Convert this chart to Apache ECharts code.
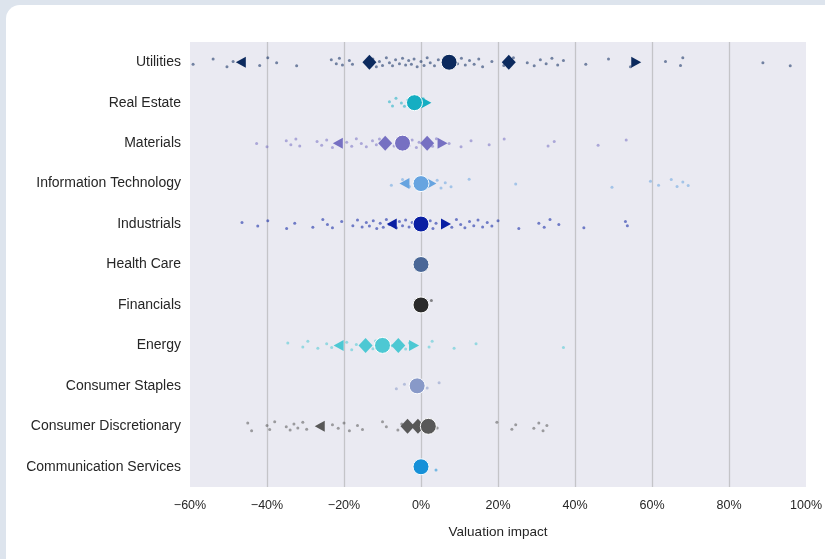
<!DOCTYPE html>
<html>
<head>
<meta charset="utf-8">
<script src="https://cdn.jsdelivr.net/npm/echarts@6/dist/echarts.min.js"></script>
<style>
  html, body { margin: 0; padding: 0; background: #dde4ed; width: 825px; height: 559px; overflow: hidden; }
  #card { position: absolute; left: 6px; top: 5px; width: 840px; height: 580px; background: #ffffff; border-radius: 14px; }
  #chart { position: absolute; left: 0; top: 0; width: 825px; height: 559px; }
</style>
</head>
<body>
<div id="card"></div>
<div id="chart"></div>
<script>
// Sectors, top to bottom
const categories = [
  'Utilities', 'Real Estate', 'Materials', 'Information Technology', 'Industrials',
  'Health Care', 'Financials', 'Energy', 'Consumer Staples', 'Consumer Discretionary',
  'Communication Services'
];

// Individual company valuation impacts (%)
const utilitiesPts = [-59.2, -54, -50.4, -48.8, -41.9, -39.8, -37.5, -32.3, -23.3, -22, -21.2, -20.4, -18.6, -17.8, -12.5, -11.6, -10.8, -10, -9, -8.2, -7.4, -6.6, -5.6, -4.8, -4, -3.2, -2.5, -1.8, -1, 0, 0.8, 1.6, 2.4, 3.5, 4.5, 9.5, 10.5, 11.5, 12.6, 13.8, 15, 16, 18.4, 21.5, 24, 27.6, 29.4, 31, 32.5, 34, 35.5, 37, 42.8, 48.7, 54.4, 63.5, 67.4, 68, 88.8, 95.9];
const realEstatePts = [-8.2, -7.4, -6.5, -5.1, -4.3, -3.5, -0.5, 0.6];
const materialsPts = [-42.7, -40, -35, -33.8, -32.5, -31.5, -27, -25.8, -24.5, -23, -19.3, -18, -16.8, -15.5, -14.2, -12.6, -11.6, -10.8, -7, -6, -3, -2.3, -1.2, -0.5, 3, 4, 7.3, 10.4, 13, 17.7, 21.6, 33, 34.6, 46, 53.3];
const infoTechPts = [-7.7, -4.8, -3, -1.5, 1.5, 4.2, 5.2, 6.3, 7.8, 12.5, 24.6, 49.6, 59.6, 61.7, 65, 66.5, 68, 69.4];
const industrialsPts = [-46.5, -42.4, -39.8, -34.9, -32.8, -28.1, -25.5, -24.3, -23, -20.6, -17.7, -16.5, -15.3, -14.2, -13.4, -12.4, -11.5, -10.6, -9.8, -9, -8.2, -6.4, -5.6, -4.8, -4, -3.1, -2.3, 1.6, 2.4, 3.1, 3.9, 8, 9.2, 10.3, 11.4, 12.6, 13.7, 14.8, 16, 17.2, 18.4, 20, 25.4, 30.6, 32, 33.5, 35.8, 42.3, 53.1, 53.6];
const healthCarePts = [];
const financialsPts = [2.7];
const energyPts = [-34.6, -30.7, -29.4, -26.8, -24.5, -23.2, -19.3, -18, -16.8, -12.5, -11.8, -7.5, -4, -3, 2.1, 2.9, 8.6, 14.3, 37];
const staplesPts = [-6.4, -4.3, 1.6, 4.7];
const discretionaryPts = [-45, -44, -40, -39.3, -38, -35, -34, -33, -32, -30.7, -29.7, -23, -21.5, -20, -18.6, -16.5, -15.2, -10, -9, -6, -5, 4.2, 19.7, 23.6, 24.6, 29.3, 30.6, 31.7, 32.7];
const commServicesPts = [3.9];

const companyPoints = [utilitiesPts, realEstatePts, materialsPts, infoTechPts, industrialsPts,
  healthCarePts, financialsPts, energyPts, staplesPts, discretionaryPts, commServicesPts];

// Summary statistics per sector (%)
const medians        = [7.3, -1.7, -4.8, 0, 0, 0, 0, -10, -1, 1.9, 0];
const lowerQuartiles = [-13.4, null, -9.3, null, null, null, null, -14.4, null, -3.5, null];
const upperQuartiles = [22.8, null, 1.6, null, null, null, null, -5.9, null, -0.8, null];
const lowerTails     = [-46.8, null, -21.6, -4.3, -7.6, null, null, -21.4, null, -26.3, null];
const upperTails     = [55.9, 1.4, 5.6, 2.7, 6.5, null, null, -1.8, null, null, null];

// Strip-plot spread (in row units) so overlapping dots stay visible
const stripSpread = [0.05, -0.08, 0.11, -0.02, 0.08, -0.11, 0.01, 0.09, -0.06, 0.04, -0.1, 0.07, -0.04];

const xTicks = { min: -60, max: 100, step: 20 };

const sectorColors = ['#0c2a5e', '#15aec2', '#7670c2', '#67a4e0', '#0a1fa3', '#4a6797',
  '#2b2b2b', '#4dc8d3', '#8899c8', '#585858', '#1690d8'];

const pointData = [];
companyPoints.forEach((list, i) => {
  list.forEach((v, j) => {
    pointData.push({ value: [v, i + stripSpread[(j + i * 3) % stripSpread.length]], itemStyle: { color: sectorColors[i] } });
  });
});

function statData(arr) {
  const out = [];
  arr.forEach((v, i) => {
    if (v !== null) out.push({ value: [v, i], itemStyle: { color: sectorColors[i] } });
  });
  return out;
}

const fontFamily = '"Liberation Sans", Arial, sans-serif';
const solid = { opacity: 1 };
const chart = echarts.init(document.getElementById('chart'), null, { renderer: 'canvas' });
chart.setOption({
  animation: false,
  textStyle: { fontFamily: fontFamily },
  grid: { left: 190, right: 17, top: 42, bottom: 72, show: true, backgroundColor: '#eaeaf2', borderWidth: 0 },
  xAxis: {
    type: 'value', min: xTicks.min, max: xTicks.max, interval: xTicks.step,
    name: 'Valuation impact', nameLocation: 'middle', nameGap: 38,
    nameTextStyle: { fontSize: 13.5, color: '#262626', fontFamily: fontFamily },
    axisLine: { show: false }, axisTick: { show: false },
    axisLabel: {
      fontSize: 12.5, color: '#262626', margin: 12,
      formatter: v => (v < 0 ? '\u2212' + Math.abs(v) : v) + '%'
    },
    splitLine: { show: true, showMinLine: false, showMaxLine: false, lineStyle: { color: '#c4c4c8', width: 1.3 } }
  },
  yAxis: [
    {
      type: 'category', data: categories, inverse: true,
      axisLine: { show: false }, axisTick: { show: false }, splitLine: { show: false },
      axisLabel: { fontSize: 14, color: '#262626', margin: 9 }
    },
    { type: 'value', min: -0.5, max: 10.5, inverse: true, show: false, splitLine: { show: false } }
  ],
  series: [
    { type: 'scatter', yAxisIndex: 1, symbol: 'circle', symbolSize: 3, itemStyle: { opacity: 0.55 }, data: pointData, z: 2 },
    { type: 'scatter', yAxisIndex: 1, symbol: 'path://M0,5L10,0L10,10Z', symbolSize: [10, 11], itemStyle: solid, data: statData(lowerTails), z: 3 },
    { type: 'scatter', yAxisIndex: 1, symbol: 'path://M0,0L10,5L0,10Z', symbolSize: [10, 11], itemStyle: solid, data: statData(upperTails), z: 3 },
    { type: 'scatter', yAxisIndex: 1, symbol: 'diamond', symbolSize: [14, 15], itemStyle: solid, data: statData(lowerQuartiles), z: 4 },
    { type: 'scatter', yAxisIndex: 1, symbol: 'diamond', symbolSize: [14, 15], itemStyle: solid, data: statData(upperQuartiles), z: 4 },
    { type: 'scatter', yAxisIndex: 1, symbol: 'circle', symbolSize: 16,
      itemStyle: { opacity: 1, borderColor: '#ffffff', borderWidth: 1 }, data: statData(medians), z: 5 }
  ]
});
</script>
</body>
</html>
